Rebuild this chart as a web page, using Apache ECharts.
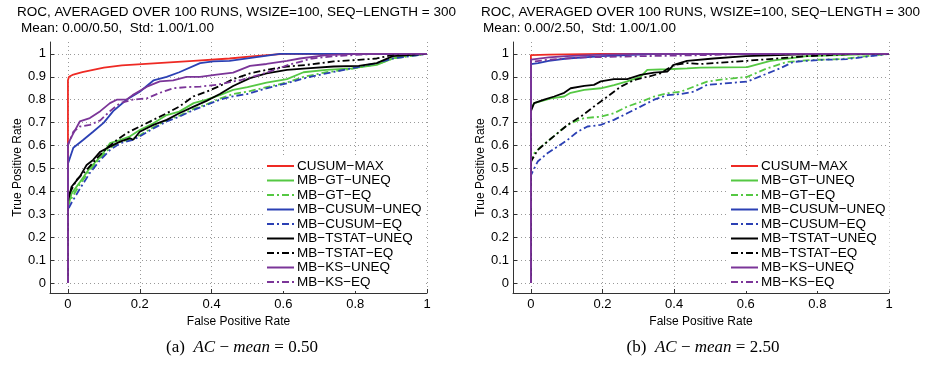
<!DOCTYPE html>
<html>
<head>
<meta charset="utf-8">
<script src="https://cdn.jsdelivr.net/npm/echarts@6/dist/echarts.min.js"></script>
<style>html,body{margin:0;padding:0;background:#fff}#c{width:926px;height:374px}</style>
</head>
<body>
<div id="c"></div>
<script>
// ---------- tick values ----------
const xTicks = [0, 0.2, 0.4, 0.6, 0.8, 1];
const yTicks = [0, 0.1, 0.2, 0.3, 0.4, 0.5, 0.6, 0.7, 0.8, 0.9, 1];

// ---------- series names ----------
const seriesNames = ['CUSUM−MAX', 'MB−GT−UNEQ', 'MB−GT−EQ', 'MB−CUSUM−UNEQ', 'MB−CUSUM−EQ',
  'MB−TSTAT−UNEQ', 'MB−TSTAT−EQ', 'MB−KS−UNEQ', 'MB−KS−EQ'];

// ---------- (a) AC-mean = 0.50 : [FPR, TPR] ----------
const a_cusumMax = [[0,0],[0,0.885],[0.003,0.9],[0.015,0.91],[0.04,0.92],[0.07,0.93],[0.1,0.94],[0.15,0.95],[0.25,0.96],[0.35,0.97],[0.45,0.98],[0.52,0.99],[0.6,1],[1,1]];
const a_gtUneq = [[0,0],[0,0.33],[0.01,0.39],[0.033,0.44],[0.06,0.5],[0.09,0.55],[0.117,0.61],[0.145,0.624],[0.173,0.64],[0.2,0.668],[0.238,0.697],[0.275,0.733],[0.31,0.748],[0.35,0.785],[0.386,0.8],[0.423,0.82],[0.46,0.843],[0.5,0.855],[0.553,0.875],[0.61,0.89],[0.656,0.92],[0.72,0.93],[0.79,0.937],[0.86,0.952],[0.905,0.98],[0.95,0.995],[1,1]];
const a_gtEq = [[0,0],[0,0.34],[0.01,0.37],[0.033,0.43],[0.06,0.49],[0.09,0.545],[0.117,0.59],[0.145,0.615],[0.18,0.63],[0.2,0.645],[0.238,0.68],[0.275,0.71],[0.31,0.73],[0.35,0.76],[0.386,0.78],[0.423,0.805],[0.46,0.825],[0.5,0.835],[0.553,0.855],[0.61,0.875],[0.656,0.9],[0.72,0.92],[0.79,0.935],[0.86,0.955],[0.905,0.98],[0.95,0.99],[1,1]];
const a_cusumUneq = [[0,0],[0,0.52],[0.015,0.59],[0.043,0.625],[0.07,0.66],[0.1,0.7],[0.126,0.75],[0.163,0.8],[0.2,0.835],[0.238,0.884],[0.275,0.9],[0.31,0.92],[0.368,0.96],[0.405,0.967],[0.45,0.97],[0.52,0.985],[0.59,1],[1,1]];
const a_cusumEq = [[0,0],[0,0.32],[0.01,0.35],[0.033,0.41],[0.061,0.48],[0.09,0.537],[0.117,0.58],[0.145,0.61],[0.182,0.625],[0.2,0.64],[0.238,0.675],[0.275,0.705],[0.31,0.726],[0.35,0.755],[0.386,0.777],[0.423,0.8],[0.46,0.815],[0.5,0.825],[0.553,0.85],[0.61,0.872],[0.656,0.893],[0.72,0.915],[0.79,0.937],[0.86,0.96],[0.905,0.98],[1,1]];
const a_tstatUneq = [[0,0],[0,0.355],[0.01,0.42],[0.033,0.464],[0.052,0.515],[0.07,0.537],[0.09,0.573],[0.117,0.595],[0.145,0.617],[0.173,0.632],[0.182,0.625],[0.2,0.66],[0.238,0.69],[0.275,0.712],[0.31,0.741],[0.35,0.77],[0.386,0.795],[0.423,0.825],[0.46,0.86],[0.507,0.894],[0.553,0.915],[0.61,0.93],[0.665,0.937],[0.74,0.945],[0.81,0.948],[0.86,0.96],[0.905,0.99],[1,1]];
const a_tstatEq = [[0,0],[0,0.377],[0.024,0.45],[0.052,0.493],[0.08,0.544],[0.108,0.588],[0.136,0.624],[0.163,0.654],[0.2,0.683],[0.238,0.712],[0.275,0.741],[0.31,0.77],[0.35,0.815],[0.386,0.835],[0.423,0.86],[0.46,0.89],[0.507,0.915],[0.553,0.93],[0.61,0.945],[0.665,0.952],[0.74,0.967],[0.81,0.974],[0.86,0.98],[0.905,0.996],[1,1]];
const a_ksUneq = [[0,0],[0,0.607],[0.015,0.653],[0.033,0.705],[0.061,0.72],[0.09,0.75],[0.117,0.785],[0.136,0.8],[0.163,0.8],[0.18,0.82],[0.22,0.857],[0.256,0.88],[0.293,0.884],[0.33,0.9],[0.368,0.9],[0.414,0.91],[0.46,0.918],[0.507,0.948],[0.553,0.956],[0.61,0.97],[0.646,0.98],[0.72,0.995],[0.8,1],[1,1]];
const a_ksEq = [[0,0],[0,0.6],[0.015,0.66],[0.033,0.683],[0.061,0.69],[0.09,0.71],[0.117,0.75],[0.145,0.785],[0.18,0.8],[0.22,0.806],[0.256,0.83],[0.293,0.85],[0.33,0.855],[0.368,0.857],[0.414,0.865],[0.46,0.88],[0.48,0.885],[0.553,0.918],[0.61,0.95],[0.68,0.98],[0.74,0.99],[0.85,1],[1,1]];

// ---------- (b) AC-mean = 2.50 : [FPR, TPR] ----------
const b_cusumMax = [[0,0],[0,0.995],[0.05,0.997],[0.2,1],[1,1]];
const b_gtUneq = [[0,0],[0,0.76],[0.009,0.785],[0.056,0.806],[0.093,0.814],[0.111,0.83],[0.149,0.843],[0.195,0.85],[0.232,0.864],[0.269,0.88],[0.306,0.9],[0.325,0.93],[0.381,0.933],[0.436,0.937],[0.474,0.94],[0.604,0.942],[0.669,0.97],[0.77,0.99],[0.975,1],[1,1]];
const b_gtEq = [[0,0],[0,0.52],[0.005,0.56],[0.028,0.595],[0.056,0.63],[0.084,0.668],[0.111,0.697],[0.149,0.72],[0.195,0.726],[0.232,0.741],[0.269,0.77],[0.306,0.79],[0.344,0.814],[0.381,0.828],[0.418,0.835],[0.455,0.857],[0.492,0.879],[0.538,0.889],[0.604,0.9],[0.66,0.937],[0.715,0.965],[0.79,0.974],[0.864,0.977],[0.938,0.99],[1,1]];
const b_cusumUneq = [[0,0],[0,0.955],[0.02,0.96],[0.05,0.97],[0.1,0.98],[0.2,0.99],[0.35,1],[1,1]];
const b_cusumEq = [[0,0],[0,0.47],[0.019,0.53],[0.046,0.566],[0.074,0.595],[0.102,0.624],[0.13,0.66],[0.158,0.683],[0.195,0.69],[0.232,0.712],[0.269,0.741],[0.306,0.77],[0.344,0.8],[0.381,0.82],[0.418,0.825],[0.455,0.835],[0.492,0.865],[0.604,0.879],[0.696,0.937],[0.733,0.965],[0.808,0.974],[0.882,0.977],[0.938,0.988],[1,1]];
const b_tstatUneq = [[0,0],[0,0.75],[0.009,0.785],[0.037,0.8],[0.065,0.814],[0.093,0.83],[0.111,0.85],[0.149,0.86],[0.176,0.865],[0.195,0.88],[0.232,0.89],[0.269,0.89],[0.306,0.908],[0.344,0.918],[0.381,0.923],[0.399,0.952],[0.436,0.97],[0.51,0.98],[0.6,0.99],[0.8,1],[1,1]];
const b_tstatEq = [[0,0],[0,0.53],[0.019,0.58],[0.046,0.617],[0.074,0.653],[0.102,0.69],[0.139,0.726],[0.176,0.77],[0.214,0.814],[0.251,0.857],[0.288,0.886],[0.325,0.9],[0.362,0.915],[0.399,0.952],[0.436,0.96],[0.474,0.956],[0.604,0.97],[0.77,0.99],[0.9,1],[1,1]];
const b_ksUneq = [[0,0],[0,0.975],[0.05,0.985],[0.1,0.99],[0.2,0.997],[0.3,1],[1,1]];
const b_ksEq = [[0,0],[0,0.965],[0.05,0.975],[0.15,0.985],[0.3,0.99],[0.5,0.995],[0.6,1],[1,1]];

const dataA = [a_cusumMax, a_gtUneq, a_gtEq, a_cusumUneq, a_cusumEq, a_tstatUneq, a_tstatEq, a_ksUneq, a_ksEq];
const dataB = [b_cusumMax, b_gtUneq, b_gtEq, b_cusumUneq, b_cusumEq, b_tstatUneq, b_tstatEq, b_ksUneq, b_ksEq];

// ---------- styles ----------
const FONT = "'Liberation Sans', Arial, Helvetica, sans-serif";
const SERIF = "'Liberation Serif', 'DejaVu Serif', serif";
const RED = '#ee2a24', GREEN = '#55c843', BLUE = '#2b40b4', BLACK = '#000000', PURPLE = '#7b3598';
const DASHDOT = [7, 3, 2, 3];
const styles = [
  {color: RED, type: 'solid'},
  {color: GREEN, type: 'solid'},
  {color: GREEN, type: DASHDOT},
  {color: BLUE, type: 'solid'},
  {color: BLUE, type: DASHDOT},
  {color: BLACK, type: 'solid'},
  {color: BLACK, type: DASHDOT},
  {color: PURPLE, type: 'solid'},
  {color: PURPLE, type: DASHDOT}
];

function xAxisCfg(gi) {
  return {
    type: 'value', gridIndex: gi, min: -0.05, max: 1,
    name: 'False Positive Rate', nameLocation: 'middle', nameGap: 18,
    nameTextStyle: {fontFamily: FONT, fontSize: 12, color: '#000'},
    axisLine: {onZero: false, lineStyle: {color: '#333', width: 1}},
    axisTick: {inside: true, length: 4, lineStyle: {color: '#333'}, customValues: xTicks},
    axisLabel: {customValues: xTicks, margin: 5, fontFamily: FONT, fontSize: 13, color: '#000'},
    splitLine: {show: true, lineStyle: {type: [1, 3], color: '#999', width: 1}}
  };
}
function yAxisCfg(gi) {
  return {
    type: 'value', gridIndex: gi, min: -0.044, max: 1.052,
    name: 'True Positive Rate', nameLocation: 'middle', nameGap: 26,
    nameTextStyle: {fontFamily: FONT, fontSize: 12, color: '#000'},
    axisLine: {onZero: false, lineStyle: {color: '#333', width: 1}},
    axisTick: {inside: true, length: 4, lineStyle: {color: '#333'}, customValues: yTicks},
    axisLabel: {customValues: yTicks, margin: 4, fontFamily: FONT, fontSize: 13, color: '#000'},
    splitLine: {show: true, lineStyle: {type: [1, 3], color: '#999', width: 1}}
  };
}
function legendCfg(left) {
  return {
    orient: 'vertical', left: left, top: 157,
    itemWidth: 27, itemHeight: 13, itemGap: 0.5,
    backgroundColor: '#fff', padding: [2, 4, 2, 2],
    selectedMode: false,
    itemStyle: {opacity: 0},
    textStyle: {fontFamily: FONT, fontSize: 13.5, color: '#000', padding: [0, 0, 0, -2]},
    data: seriesNames
  };
}

const series = [];
[dataA, dataB].forEach((set, gi) => {
  set.forEach((d, i) => {
    series.push({
      type: 'line', name: seriesNames[i], xAxisIndex: gi, yAxisIndex: gi,
      data: d, symbol: 'none', animation: false,
      lineStyle: {color: styles[i].color, type: styles[i].type, width: 1.8},
      itemStyle: {color: styles[i].color}
    });
  });
});

const titleStyle = {fontFamily: FONT, fontSize: 13.5, fontWeight: 'normal', color: '#000'};
const capRich = {
  n: {fontFamily: SERIF, fontSize: 17, fontWeight: 'normal', color: '#000'},
  i: {fontFamily: SERIF, fontSize: 17, fontWeight: 'normal', fontStyle: 'italic', color: '#000'}
};

const option = {
  backgroundColor: '#fff',
  animation: false,
  title: [
    {text: 'ROC, AVERAGED OVER 100 RUNS, WSIZE=100, SEQ−LENGTH = 300', left: 17, top: 5, padding: 0, textStyle: titleStyle},
    {text: 'Mean: 0.00/0.50,  Std: 1.00/1.00', left: 21, top: 21, padding: 0, textStyle: titleStyle},
    {text: 'ROC, AVERAGED OVER 100 RUNS, WSIZE=100, SEQ−LENGTH = 300', left: 481, top: 5, padding: 0, textStyle: titleStyle},
    {text: 'Mean: 0.00/2.50,  Std: 1.00/1.00', left: 483, top: 21, padding: 0, textStyle: titleStyle},
    {text: '{n|(a)  }{i|AC}{n| − }{i|mean}{n| = 0.50}', left: 242, textAlign: 'center', top: 339, padding: 0,
      textStyle: {fontWeight: 'normal', rich: capRich}},
    {text: '{n|(b)  }{i|AC}{n| − }{i|mean}{n| = 2.50}', left: 703, textAlign: 'center', top: 339, padding: 0,
      textStyle: {fontWeight: 'normal', rich: capRich}}
  ],
  legend: [legendCfg(264), legendCfg(728)],
  grid: [
    {left: 50, right: 499, top: 42, bottom: 81, containLabel: false},
    {left: 513, right: 37, top: 42, bottom: 81, containLabel: false}
  ],
  xAxis: [xAxisCfg(0), xAxisCfg(1)],
  yAxis: [yAxisCfg(0), yAxisCfg(1)],
  series: series
};

const chart = echarts.init(document.getElementById('c'), null, {renderer: 'canvas'});
chart.setOption(option);
</script>
</body>
</html>
